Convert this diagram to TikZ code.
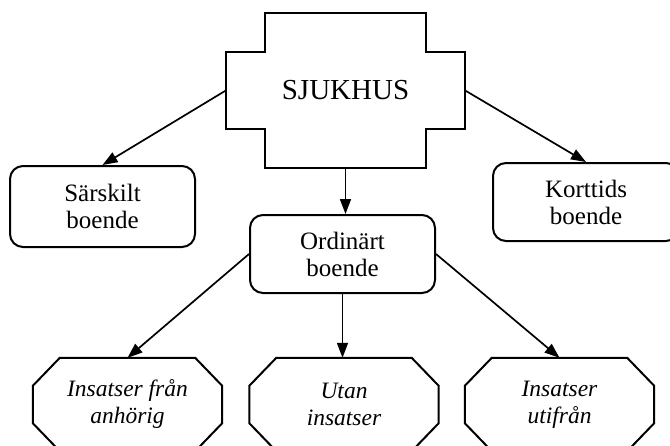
\documentclass[tikz,border=0pt]{standalone}
\usepackage{fontspec}
\setmainfont{Liberation Serif}
\usetikzlibrary{positioning,calc,arrows.meta}
\tikzset{
  figfont/.style={font=\fontsize{25}{27}\selectfont},
  figline/.style={line width=2pt, line join=miter},
  figbox/.style={draw, figline, rounded corners=13pt, align=center, minimum width=185pt, figfont},
  figoctbox/.style={align=center, minimum width=189pt, minimum height=93pt, font=\fontsize{23.5}{27}\selectfont\itshape},
  figcrossbox/.style={minimum width=239pt, minimum height=155pt, font=\fontsize{29}{32}\selectfont},
  figarrow/.style={-{Triangle[length=15pt,width=11pt]}, line width=1.7pt},
}

\begin{document}
\begin{tikzpicture}[x=1pt,y=-1pt]
  \useasboundingbox (0,0) rectangle (670,445);
  \clip (0,0) rectangle (670,445);

  % Top: hospital (cross-shaped outline)
  \node[figcrossbox] (sjukhus) at (345.5,90.5) {\raisebox{2pt}{SJUKHUS}};
  \draw[figline] ([xshift=39pt]sjukhus.north west) -- ([xshift=-39pt]sjukhus.north east)
    -- ([xshift=-39pt,yshift=-39pt]sjukhus.north east) -- ([yshift=-39pt]sjukhus.north east)
    -- ([yshift=39pt]sjukhus.south east) -- ([xshift=-39pt,yshift=39pt]sjukhus.south east)
    -- ([xshift=-39pt]sjukhus.south east) -- ([xshift=39pt]sjukhus.south west)
    -- ([xshift=39pt,yshift=39pt]sjukhus.south west) -- ([yshift=39pt]sjukhus.south west)
    -- ([yshift=-39pt]sjukhus.north west) -- ([xshift=39pt,yshift=-39pt]sjukhus.north west)
    -- cycle;

  % Middle: kinds of housing
  \node[figbox, minimum height=81pt] (sarskilt) at (102.5,206.5) {Särskilt\\boende};
  \node[figbox, minimum height=78pt] (ordinart) at (342.5,254) {Ordinärt\\boende};
  \node[figbox, minimum height=78pt, minimum width=186pt] (korttids) at (586,202) {Korttids\\boende};

  % Bottom: support (octagons)
  \node[figoctbox] (anhorig) at (127.5,404.5) {Insatser från\\anhörig};
  \node[figoctbox] (utan) at (344,404.5) {Utan\\insatser};
  \node[figoctbox] (utifran) at (559.5,404.5) {Insatser\\utifrån};
  \foreach \n in {anhorig,utan,utifran}
    \draw[figline] ([xshift=27pt]\n.north west) -- ([xshift=-27pt]\n.north east)
      -- ([yshift=-28pt]\n.north east) -- ([yshift=28pt]\n.south east)
      -- ([xshift=-27pt]\n.south east) -- ([xshift=27pt]\n.south west)
      -- ([yshift=28pt]\n.south west) -- ([yshift=-28pt]\n.north west) -- cycle;

  % Arrows
  \draw[figarrow] (sjukhus.west) -- (sarskilt.north);
  \draw[figarrow] (sjukhus.east) -- (korttids.north);
  \draw[figarrow] (sjukhus.south) -- (sjukhus.south |- ordinart.north);
  \draw[figarrow] (ordinart.west) -- (anhorig.north);
  \draw[figarrow] (ordinart.south) -- (ordinart.south |- utan.north);
  \draw[figarrow] (ordinart.east) -- (utifran.north);
\end{tikzpicture}
\end{document}
